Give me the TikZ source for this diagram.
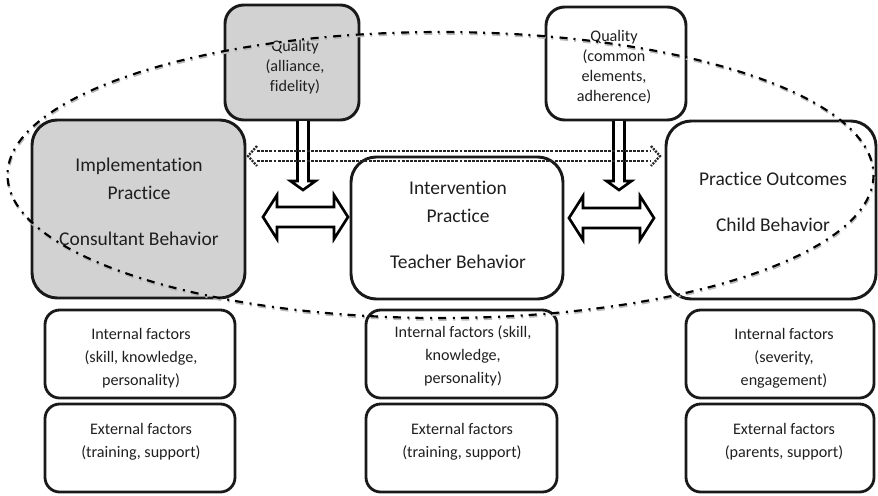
\documentclass[tikz,border=0pt]{standalone}
\usepackage{fontspec}
\setmainfont[Ligatures=NoCommon]{Carlito}
\usetikzlibrary{calc}
\begin{document}
\begin{tikzpicture}[x=0.75pt,y=-0.75pt,
  box/.style={draw=black!90, line width=2.2pt, inner sep=0pt, outer sep=0pt},
  bigbox/.style={box, rounded corners=19pt},
  qualbox/.style={box, rounded corners=14pt},
  smallbox/.style={box, line width=2.1pt, rounded corners=11pt},
  grayfill/.style={fill=gray!35},
  bigtxt/.style={font=\fontsize{14.6pt}{21pt}\selectfont, align=center, text=black!88, inner sep=0pt},
  smalltxt/.style={font=\fontsize{12.1pt}{17.25pt}\selectfont, align=center, text=black!88, inner sep=0pt},
  qualtxt/.style={font=\fontsize{12.1pt}{15pt}\selectfont, align=center, text=black!88, inner sep=0pt},
  hollow/.style={draw=black, line width=2pt, fill=white, line join=miter},
  dotlink/.style={draw=black!85, line width=1.8pt, dash pattern=on 2.2pt off 0.9pt},
  ring/.style={draw=black, line width=1.6pt, dash pattern=on 6pt off 4.5pt on 1.5pt off 5pt},
  ringshade/.style={ring, draw=gray!55, line width=1.8pt}
]
\useasboundingbox (0,0) rectangle (878,496);

% quality boxes
\node[qualbox, grayfill, minimum width=134*0.75pt, minimum height=115*0.75pt] (qualL) at (292,62.5) {};
\node[qualbox, minimum width=140*0.75pt, minimum height=113*0.75pt] (qualR) at (616,63.5) {};
\node[qualtxt] (qualLt) at (295,67) {Quality\\(alliance,\\fidelity)};
\node[qualtxt] (qualRt) at (614,67) {Quality\\(common\\elements,\\adherence)};

% main practice boxes
\node[bigbox, grayfill, minimum width=213*0.75pt, minimum height=178*0.75pt] (impl) at (138.5,209) {};
\node[bigbox, minimum width=212*0.75pt, minimum height=142*0.75pt] (interv) at (457,228) {};
\node[bigbox, minimum width=210*0.75pt, minimum height=178*0.75pt] (outc) at (771,210) {};
\node[bigtxt] (implt) at (139,201.5) {Implementation\\Practice\\[13.5pt]Consultant Behavior};
\node[bigtxt] (intervt) at (458,224.5) {Intervention\\Practice\\[13.5pt]Teacher Behavior};
\node[bigtxt] (outct) at (773,202) {Practice Outcomes\\[13.5pt]Child Behavior};

% internal and external factor boxes
\node[smallbox, minimum width=190*0.75pt, minimum height=88*0.75pt] (intL) at (140,354) {};
\node[smallbox, minimum width=190*0.75pt, minimum height=88*0.75pt] (extL) at (140,448) {};
\node[smallbox, minimum width=191*0.75pt, minimum height=88*0.75pt] (intM) at (461.5,354) {};
\node[smallbox, minimum width=191*0.75pt, minimum height=88*0.75pt] (extM) at (461.5,448) {};
\node[smallbox, minimum width=188*0.75pt, minimum height=88*0.75pt] (intR) at (780,354) {};
\node[smallbox, minimum width=188*0.75pt, minimum height=88*0.75pt] (extR) at (780,448) {};

\node[smalltxt] (intLt) at (141,358) {Internal factors\\(skill, knowledge,\\personality)};
\node[smalltxt] (extLt) at (141,441.5) {External factors\\(training, support)};
\node[smalltxt] (intMt) at (463,356) {Internal factors (skill,\\knowledge,\\personality)};
\node[smalltxt] (extMt) at (462,441.5) {External factors\\(training, support)};
\node[smalltxt] (intRt) at (784,358) {Internal factors\\(severity,\\engagement)};
\node[smalltxt] (extRt) at (784,441.5) {External factors\\(parents, support)};

% hollow arrows from the quality boxes down
\coordinate (vL) at ($(qualL.south)+(11,1)$);
\coordinate (vR) at ($(qualR.south)+(3,1)$);
\foreach \p in {vL,vR}{
  \draw[hollow] (\p) ++(-5.5,0) -- ++(0,60) -- ++(-7,0) -- ++(12.5,9) -- ++(12.5,-9)
        -- ++(-7,0) -- ++(0,-60);
}

% hollow double arrows between the practice boxes
\coordinate (hA) at (263,217);
\coordinate (hB) at (569,218);
\foreach \p in {hA,hB}{
  \draw[hollow] (\p) -- ++(14,-22) -- ++(0,12) -- ++(57,0) -- ++(0,-12) -- ++(14,22)
        -- ++(-14,22) -- ++(0,-12) -- ++(-57,0) -- ++(0,12) -- cycle;
}

% dotted double arrow from implementation to outcomes
\coordinate (dA) at ($(impl.east)+(3,-53)$);
\coordinate (dB) at ($(outc.west)+(-6,-54)$);
\draw[dotlink] ($(dA)+(9,-5)$) -- ($(dB)+(-9,-5)$);
\draw[dotlink] ($(dA)+(9,5)$) -- ($(dB)+(-9,5)$);
\draw[dotlink, dash pattern=on 1.5pt off 0.9pt] ($(dA)+(9,-10)$) -- (dA) -- ($(dA)+(9,10)$);
\draw[dotlink, dash pattern=on 1.5pt off 0.9pt] ($(dB)+(-9,-10)$) -- (dB) -- ($(dB)+(-9,10)$);

% dash-dot ring around the practice chain
\coordinate (ringc) at (440.5,175);
\draw[ringshade] ($(ringc)+(0.6,1.6)$) ellipse [x radius=433, y radius=143];
\draw[ring] (ringc) ellipse [x radius=433, y radius=143];
\end{tikzpicture}
\end{document}
